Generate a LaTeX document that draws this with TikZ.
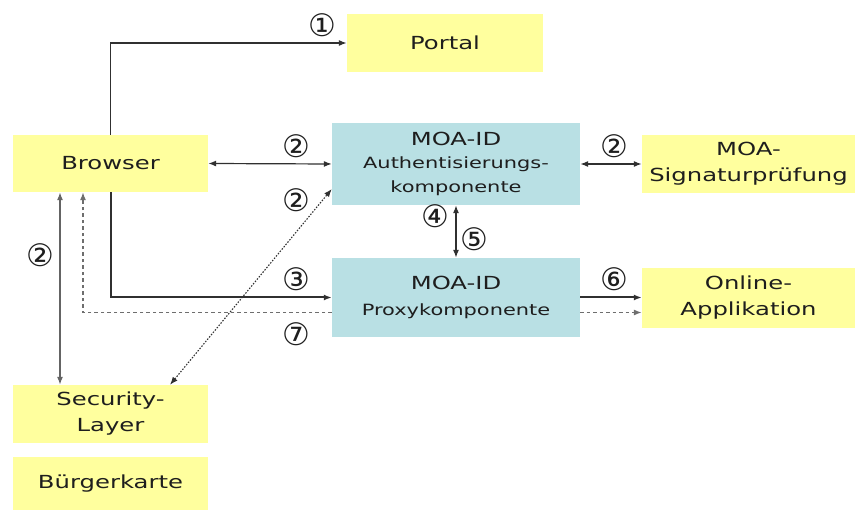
\documentclass[tikz,border=0pt]{standalone}
\usepackage{fontspec}
\setmainfont{DejaVu Sans}[FakeStretch=1.35]
\newfontfamily\circfont{DejaVu Sans}
\usetikzlibrary{arrows.meta}
\definecolor{boxyellow}{HTML}{FFFF9E}
\definecolor{boxblue}{HTML}{B9E0E4}
\definecolor{txt}{HTML}{1E1E1E}
\definecolor{ln}{HTML}{303030}
\tikzset{
  ybox/.style={fill=boxyellow, draw=none, inner sep=0pt, align=center, text=txt,
    font=\fontsize{18}{26}\selectfont},
  bbox/.style={fill=boxblue, draw=none, inner sep=0pt, align=center, text=txt,
    font=\fontsize{18}{24}\selectfont},
  conn/.style={draw=ln, line width=1.2pt},
  tip/.style={-{Latex[length=8pt,width=6pt]}},
  dtip/.style={{Latex[length=8pt,width=6pt]}-{Latex[length=8pt,width=6pt]}},
  num/.style={font=\circfont\fontsize{31}{31}\selectfont, text=txt, inner sep=0pt},
  dashln/.style={dash pattern=on 3.5pt off 3pt, draw=ln!70, line width=1.2pt},
}
\begin{document}
\begin{tikzpicture}[x=1pt,y=-1pt]
\useasboundingbox (0,0) rectangle (855,510);
% boxes
\node[ybox, minimum width=196pt, minimum height=58pt] (Portal) at (445,43) {Portal};
\node[ybox, minimum width=195pt, minimum height=57pt] (Browser) at (110.5,163.5) {Browser};
\node[bbox, minimum width=248pt, minimum height=82pt] (Auth) at (456,164)
  {MOA-ID\\[-1pt]{\fontsize{15.5}{24}\selectfont Authentisierungs-}\\{\fontsize{15.5}{24}\selectfont komponente}};
\node[ybox, minimum width=213pt, minimum height=58pt] (Sig) at (748.5,164) {MOA-\\Signaturprüfung};
\node[bbox, minimum width=248pt, minimum height=79pt] (Proxy) at (456,297.5)
  {MOA-ID\\[2pt]{\fontsize{15.5}{24}\selectfont Proxykomponente}};
\node[ybox, minimum width=213pt, minimum height=60pt] (Online) at (748.5,298) {Online-\\Applikation};
\node[ybox, minimum width=195pt, minimum height=58pt] (Sec) at (110.5,414) {Security-\\Layer};
\node[ybox, minimum width=195pt, minimum height=53pt] (Karte) at (110.5,483.5) {Bürgerkarte};
% connectors
\draw[conn, tip] (Browser.north) |- (Portal.west);
\draw[conn, dtip] (Browser.east) -- (Auth.west);
\draw[conn, dtip] (Auth.east) -- (Sig.west);
\draw[conn, dtip, draw=ln!75] ([xshift=-50.5pt]Browser.south) -- ([xshift=-50.5pt]Sec.north);
\draw[conn, dtip, line width=1.1pt, dash pattern=on 1.5pt off 1.5pt] ([xshift=59.5pt]Sec.north) -- ([yshift=-25pt]Auth.west);
\draw[conn, dtip] (Auth.south) -- (Proxy.north);
\draw[conn, tip, line width=2pt] (Browser.south) |- (Proxy.west);
\draw[dashln, tip] ([yshift=-15pt]Proxy.west) -| ([xshift=-27.5pt]Browser.south);
\draw[conn, tip, line width=2pt] (Proxy.east) -- (Proxy.east -| Online.west);
\draw[dashln, tip] ([yshift=-15pt]Proxy.east) -- ([yshift=-15pt]Proxy.east -| Online.west);
% labels
\node[num] (n1) at (322,25) {①};
\node[num] (n2a) at (296,146) {②};
\node[num] (n2b) at (296,200) {②};
\node[num] (n2c) at (40,255) {②};
\node[num] (n2d) at (614,146) {②};
\node[num] (n3) at (296,279) {③};
\node[num] (n4) at (435,216) {④};
\node[num] (n5) at (474,239) {⑤};
\node[num] (n6) at (614,279) {⑥};
\node[num] (n7) at (296,334) {⑦};
\end{tikzpicture}
\end{document}
